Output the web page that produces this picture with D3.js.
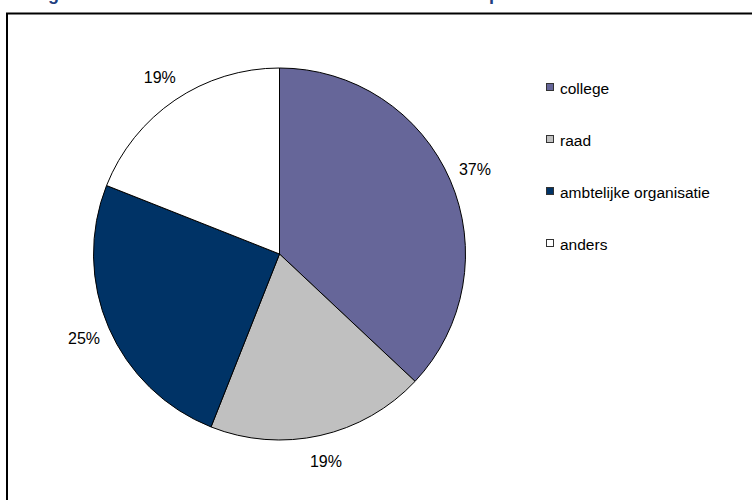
<!DOCTYPE html>
<html>
<head>
<meta charset="utf-8">
<script src="https://cdn.jsdelivr.net/npm/d3@7"></script>
<style>
  html, body { margin: 0; padding: 0; background: #fff; }
  svg { display: block; font-family: "Liberation Sans", Arial, sans-serif; }
</style>
</head>
<body>
<svg id="chart" width="752" height="500"></svg>
<script>
// Who took the initiative: share per party (percent)
const categories = ["college", "raad", "ambtelijke organisatie", "anders"];
const shares = [37, 19, 25, 19];
const colors = ["#666699", "#C0C0C0", "#003366", "#FFFFFF"];
const title = "Figuur 4.3: Initiatief tot het ontwikkelen van de visie op de stad in de toekomst";

const svg = d3.select("#chart");

// Heading, running off the top of the page
svg.append("text")
  .attr("x", 32).attr("y", 0)
  .attr("fill", "#1F3F7F")
  .attr("font-weight", "bold")
  .attr("font-size", 18)
  .text(title);

// Chart frame
svg.append("rect")
  .attr("x", 7).attr("y", 13.5)
  .attr("width", 760).attr("height", 500)
  .attr("fill", "none")
  .attr("stroke", "#000")
  .attr("stroke-width", 2);

const cx = 279.5, cy = 254, r = 186;

const pie = d3.pie().sort(null).value(d => d.v);
const arcs = pie(categories.map((c, i) => ({ c, v: shares[i], col: colors[i] })));
const arc = d3.arc().innerRadius(0).outerRadius(r);

const g = svg.append("g").attr("transform", `translate(${cx},${cy})`);

g.selectAll("path.slice")
  .data(arcs)
  .enter().append("path")
  .attr("class", "slice")
  .attr("d", arc)
  .attr("fill", d => d.data.col)
  .attr("stroke", "#000")
  .attr("stroke-width", 1);

// Percentage labels outside each slice
const fmt = d3.format(".0%");
const labelR = r + 27;
g.selectAll("text.pct")
  .data(arcs)
  .enter().append("text")
  .attr("class", "pct")
  .attr("x", d => labelR * Math.sin((d.startAngle + d.endAngle) / 2))
  .attr("y", d => -labelR * Math.cos((d.startAngle + d.endAngle) / 2))
  .attr("text-anchor", "middle")
  .attr("dominant-baseline", "central")
  .attr("font-size", 16)
  .attr("fill", "#000")
  .text(d => fmt(d.data.v / 100));

// Legend
const legendY = d3.scalePoint().domain(categories).range([87, 243]);
const lg = svg.append("g");
const item = lg.selectAll("g.item")
  .data(arcs)
  .enter().append("g")
  .attr("class", "item")
  .attr("transform", d => `translate(546.5,${legendY(d.data.c)})`);

item.append("rect")
  .attr("x", 0).attr("y", -3.5)
  .attr("width", 7).attr("height", 7)
  .attr("fill", d => d.data.col)
  .attr("stroke", "#333")
  .attr("stroke-width", 1);

item.append("text")
  .attr("x", 13.5).attr("y", 1.5)
  .attr("dominant-baseline", "central")
  .attr("font-size", 15.5)
  .attr("fill", "#000")
  .text(d => d.data.c);
</script>
</body>
</html>
